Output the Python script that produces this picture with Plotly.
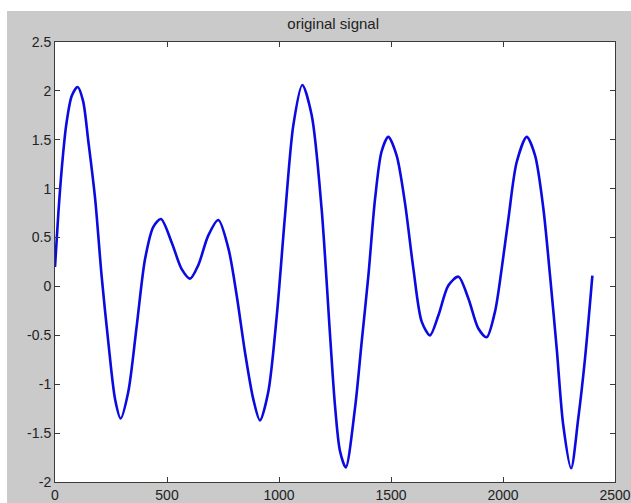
import plotly.graph_objects as go

# Values
sample_x = [0, 15, 30, 50, 75, 101, 125, 149, 179, 208, 238, 268, 293, 327, 365, 402, 439, 473,
            521, 565, 603, 640, 684, 729, 774, 811, 848, 885, 915, 952, 990, 1027, 1064, 1104,
            1146, 1190, 1228, 1250, 1272, 1298, 1339, 1369, 1399, 1429, 1458, 1488, 1525, 1562, 1600,
            1637, 1674, 1711, 1756, 1801, 1845, 1890, 1927, 1964, 1994, 2024, 2061, 2106, 2143,
            2180, 2210, 2240, 2269, 2304, 2336, 2366, 2399]
signal_y = [0.2, 0.75, 1.2, 1.65, 1.95, 2.04, 1.9, 1.48, 0.9, 0.11, -0.57, -1.15, -1.35, -1.08,
            -0.4, 0.28, 0.61, 0.69, 0.45, 0.18, 0.08, 0.22, 0.52, 0.68, 0.39, -0.09, -0.67, -1.15,
            -1.37, -1.08, -0.3, 0.73, 1.65, 2.06, 1.75, 0.8, -0.5, -1.22, -1.68, -1.85, -1.25, -0.57, 0.11,
            0.9, 1.38, 1.53, 1.34, 0.86, 0.18, -0.36, -0.5, -0.3, 0.01, 0.1, -0.12, -0.43, -0.52,
            -0.26, 0.18, 0.69, 1.27, 1.53, 1.34, 0.8, 0.11, -0.64, -1.42, -1.86, -1.35, -0.74, 0.11]
x_ticks = [0, 500, 1000, 1500, 2000, 2500]
y_ticks = [-2, -1.5, -1, -0.5, 0, 0.5, 1, 1.5, 2, 2.5]
y_tick_text = ["-2", "-1.5", "-1", "-0.5", "0", "0.5", "1", "1.5", "2", "2.5"]

fig = go.Figure()
fig.add_trace(go.Scatter(
    x=sample_x, y=signal_y, mode="lines",
    line=dict(color="rgb(10,10,225)", width=2.6, shape="spline", smoothing=0.8),
    hoverinfo="skip", showlegend=False,
))

axis_common = dict(
    showgrid=False, zeroline=False, showline=True, linecolor="#3a3a3a", linewidth=1,
    mirror="ticks", ticks="inside", ticklen=5, tickcolor="#3a3a3a", tickwidth=1,
    automargin=False,
    tickfont=dict(family="Liberation Sans, Arial, sans-serif", size=14, color="#222222"),
)

fig.update_layout(
    width=631, height=503,
    margin=dict(l=55, r=16, t=42, b=21, pad=0),
    paper_bgcolor="white", plot_bgcolor="white",
    xaxis=dict(range=[0, 2500], tickvals=x_ticks, ticktext=[str(v) for v in x_ticks],
               ticklabelstandoff=0, **axis_common),
    yaxis=dict(range=[-2, 2.5], tickvals=y_ticks, ticktext=y_tick_text, **axis_common),
    title=dict(text="original signal", x=0.528, xanchor="center", y=1 - 24 / 503, yanchor="middle",
               font=dict(family="Liberation Sans, Arial, sans-serif", size=15, color="#222222")),
    shapes=[
        # grey figure window (white strip remains at top and left, as in the reference)
        dict(type="rect", xref="paper", yref="paper", x0=(7 - 55) / 560, x1=1.2,
             y0=-0.2, y1=(482 - 11) / 440, fillcolor="#cacaca", line=dict(width=0), layer="below"),
        # white axes area
        dict(type="rect", xref="paper", yref="paper", x0=0, x1=1,
             y0=0, y1=1, fillcolor="white", line=dict(width=0), layer="below"),
    ],
)

fig.write_html("out.html")
